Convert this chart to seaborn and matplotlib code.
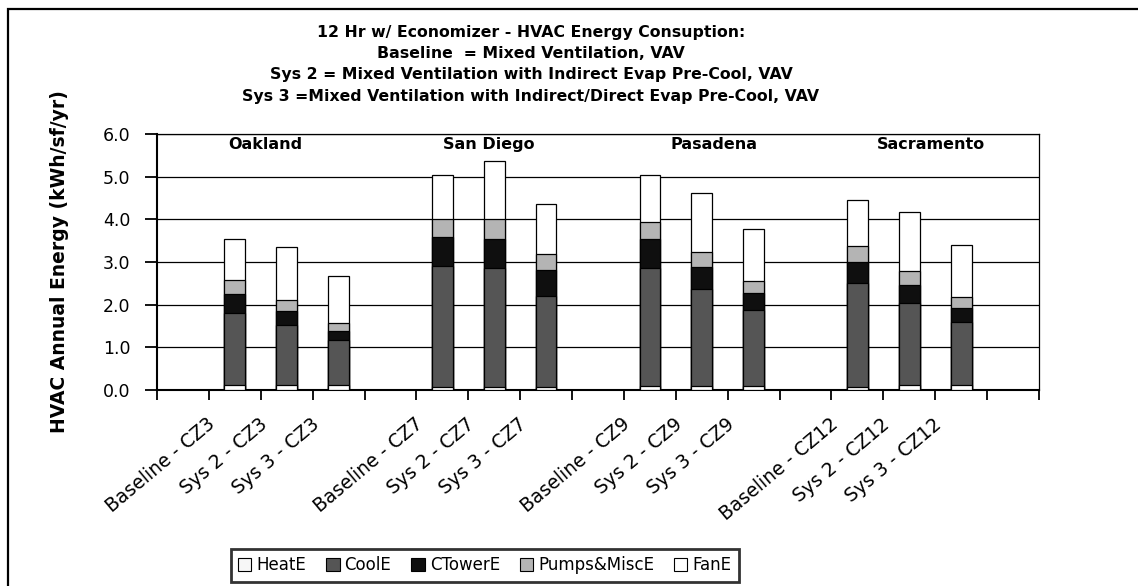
import numpy as np
import pandas as pd
import matplotlib
matplotlib.use('Agg')
import matplotlib.pyplot as plt
import seaborn as sns
from matplotlib.patches import Patch, Rectangle
from matplotlib.transforms import ScaledTranslation

# data (kWh/sf/yr)
cities = ['Oakland', 'San Diego', 'Pasadena', 'Sacramento']
zones = ['CZ3', 'CZ7', 'CZ9', 'CZ12']
systems = ['Baseline', 'Sys 2', 'Sys 3']
components = ['HeatE', 'CoolE', 'CTowerE', 'Pumps&MiscE', 'FanE']

heat = [0.12, 0.12, 0.12, 0.07, 0.07, 0.07, 0.09, 0.10, 0.10, 0.08, 0.11, 0.11]
cool = [1.68, 1.41, 1.05, 2.83, 2.78, 2.14, 2.78, 2.26, 1.78, 2.42, 1.92, 1.49]
ctower = [0.45, 0.32, 0.21, 0.68, 0.69, 0.61, 0.66, 0.53, 0.40, 0.51, 0.44, 0.32]
pumps = [0.32, 0.25, 0.18, 0.42, 0.46, 0.37, 0.40, 0.35, 0.27, 0.36, 0.31, 0.25]
fan = [0.97, 1.25, 1.12, 1.05, 1.36, 1.18, 1.10, 1.38, 1.23, 1.09, 1.40, 1.23]

colors = {'HeatE': '#ffffff', 'CoolE': '#555555', 'CTowerE': '#0f0f0f',
          'Pumps&MiscE': '#b4b4b4', 'FanE': '#ffffff'}

title_lines = [
    '12 Hr w/ Economizer - HVAC Energy Consuption:',
    'Baseline  = Mixed Ventilation, VAV',
    'Sys 2 = Mixed Ventilation with Indirect Evap Pre-Cool, VAV',
    'Sys 3 =Mixed Ventilation with Indirect/Direct Evap Pre-Cool, VAV',
]

# bar labels and category order with an empty slot before each city group
labels = [f'{s} - {z}' for z in zones for s in systems]
order = []
for g, z in enumerate(zones):
    order.append(' ' * (g + 1))
    order += [f'{s} - {z}' for s in systems]
order.append(' ' * (len(zones) + 1))

values = np.array([heat, cool, ctower, pumps, fan])
tops = np.cumsum(values, axis=0)
df = pd.DataFrame({
    'label': np.tile(labels, len(components)),
    'component': np.repeat(components, len(labels)),
    'top': tops.ravel(),
})

sns.set_theme(style='white')
plt.rcParams['font.family'] = ['DejaVu Sans']
plt.rcParams.update({'text.color': 'black', 'axes.labelcolor': 'black',
                     'xtick.color': 'black', 'ytick.color': 'black'})

fig = plt.figure(figsize=(11.38, 5.86), dpi=100)
ax = fig.add_axes([0.13796, 0.33447, 0.77504, 0.43686])

# stacked bars: draw cumulative tops from the tallest down
for comp in reversed(components):
    sns.barplot(data=df[df['component'] == comp], x='label', y='top', order=order,
                color=colors[comp], edgecolor='black', linewidth=0.9, width=0.4,
                saturation=1, errorbar=None, ax=ax, zorder=3)

n = len(order)
ax.set_xlim(-0.5, n - 0.5)
ax.set_ylim(0, 6)
ax.set_yticks(np.arange(0, 7))
ax.set_yticklabels([f'{v:.1f}' for v in np.arange(0, 7)], fontsize=12.5)
ax.yaxis.grid(True, color='black', lw=0.9, zorder=0)
ax.set_axisbelow(True)

ax.set_xticks(np.arange(n))
ax.set_xticklabels([o.strip() for o in order], rotation=40, ha='right', va='center',
                   rotation_mode='anchor', fontsize=13.5)
ax.set_xticks(np.arange(n + 1) - 0.5, minor=True)
ax.tick_params(axis='x', which='major', length=0, pad=23)
ax.tick_params(axis='x', which='minor', length=7, width=1.3, color='black', direction='out', bottom=True)
ax.tick_params(axis='y', length=9, width=1.3, color='black', direction='out', left=True, pad=10)
shift = ScaledTranslation(-22 / 100, 0, fig.dpi_scale_trans)
for lbl in ax.get_xticklabels():
    lbl.set_transform(lbl.get_transform() + shift)

ax.set_xlabel('')
ax.set_ylabel('HVAC Annual Energy (kWh/sf/yr)', fontsize=13.5, fontweight='bold')
ax.yaxis.set_label_coords(-0.1, 0.5)

for side in ['left', 'bottom']:
    ax.spines[side].set_color('black')
    ax.spines[side].set_linewidth(1.5)
for side in ['top', 'right']:
    ax.spines[side].set_color('black')
    ax.spines[side].set_linewidth(0.9)

# city group labels
city_x = [1.59, 5.90, 10.23, 14.42]
for cx, name in zip(city_x, cities):
    ax.text(cx, 5.75, name, ha='center', va='center', fontsize=11.5, fontweight='bold')

# title block
for i, line in enumerate(title_lines):
    fig.text(531 / 1138, 1 - (33 + 21 * i) / 586, line, ha='center', va='center',
             fontsize=11.3, fontweight='bold')

handles = [Patch(facecolor=('#f7f7f7' if c == 'HeatE' else colors[c]), edgecolor='black', lw=0.8)
           for c in components]
leg = fig.legend(handles, components, loc='center', bbox_to_anchor=(0.426, 0.035), ncol=5,
                 fontsize=12, frameon=True, fancybox=False, handlelength=0.8, handleheight=0.8,
                 handletextpad=0.3, columnspacing=1.2, borderpad=0.45, borderaxespad=0)
leg.get_frame().set_edgecolor('black')
leg.get_frame().set_linewidth(2)

# outer chart frame
fig.patches.append(Rectangle((8 / 1138, -0.05), 1.2, 1.05 - 9.5 / 586, transform=fig.transFigure,
                             fill=False, edgecolor='black', lw=1.6))

fig.savefig('out.png', dpi=100)
